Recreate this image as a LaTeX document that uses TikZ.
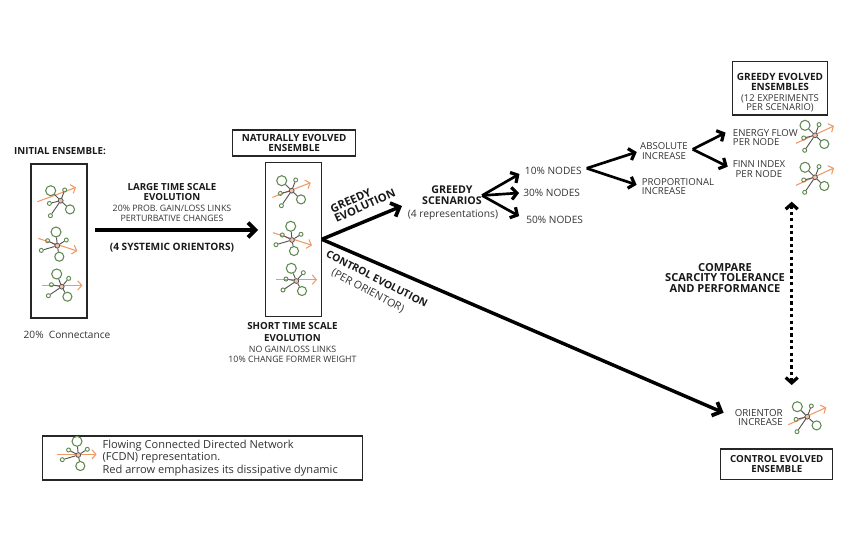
\documentclass[tikz,border=0pt]{standalone}
\usepackage{fontspec}
\setmainfont{Open Sans}
\usetikzlibrary{arrows.meta}
\definecolor{netgreen}{HTML}{5F8A4F}
\definecolor{netorange}{HTML}{EE9A68}
\definecolor{netgrey}{HTML}{555555}
\definecolor{inktext}{HTML}{333333}
\tikzset{
  lab/.style={font=\fontsize{#1}{7}\selectfont, text=inktext, inner sep=0pt, align=center},
  lab/.default=7.2,
  boldlab/.style={font=\fontsize{#1}{7.7}\selectfont\bfseries, text=black!90, inner sep=0pt, align=center},
  boldlab/.default=7.4,
  legendlab/.style={font=\fontsize{8.3}{9.5}\selectfont, text=inktext, inner sep=0pt, align=left},
  boxed/.style={draw=black!85, line width=0.8pt, inner sep=0pt},
  bigarrow/.style={line width=2.6pt, -{Straight Barb[length=5.5pt,width=11pt,line width=2.8pt]}},
  midarrow/.style={line width=2pt, -{Straight Barb[length=4pt,width=9pt,line width=2.4pt]}},
  bignode/.style={draw=netgreen, line width=0.8pt, circle, inner sep=0pt, minimum size=#1},
  bignode/.default=7.5pt,
  smallnode/.style={draw=netgreen, line width=0.7pt, circle, inner sep=0pt, minimum size=3pt},
  hubnode/.style={draw=netgrey, fill=netorange!60, line width=0.6pt, circle, inner sep=0pt, minimum size=3.6pt},
  flowarrow/.style={draw=netorange, line width=0.8pt, -{Straight Barb[length=3pt,width=7pt]}},
  netedge/.style={draw=netgrey, line width=0.7pt},
  pics/fcdnrise/.style 2 args={code={
    \draw[flowarrow] #1 -- #2;
    \node[hubnode] (hub) at (0,0) {};
    \node[bignode] (a) at (-10,-10) {};
    \node[smallnode] (b) at (4,-10.7) {};
    \node[smallnode] (c) at (-11.3,2.7) {};
    \node[bignode=6.8pt] (d) at (9.3,8.7) {};
    \node[smallnode] (e) at (-10.3,15) {};
    \foreach \leaf in {a,b,c,d,e} \draw[netedge] (hub) -- (\leaf);
  }},
  pics/fcdnfall/.style 2 args={code={
    \draw[flowarrow] #1 -- #2;
    \node[hubnode] (hub) at (0,0) {};
    \node[bignode] (a) at (-1.3,-13.7) {};
    \node[smallnode] (b) at (9,-5.7) {};
    \node[smallnode] (c) at (-9.7,-5) {};
    \node[bignode=6.8pt] (d) at (2,11) {};
    \node[smallnode] (e) at (-16,4.7) {};
    \foreach \leaf in {a,b,c,d,e} \draw[netedge] (hub) -- (\leaf);
  }},
  pics/fcdnflat/.style 2 args={code={
    \draw[flowarrow] #1 -- #2;
    \node[hubnode] (hub) at (0,0) {};
    \node[bignode] (a) at (-5,-12.7) {};
    \node[smallnode] (b) at (7,-8.3) {};
    \node[smallnode] (c) at (-10.3,-2) {};
    \node[bignode=6.8pt] (d) at (5.7,10) {};
    \node[smallnode] (e) at (-13.3,9) {};
    \foreach \leaf in {a,b,c,d,e} \draw[netedge] (hub) -- (\leaf);
  }},
}
\begin{document}
\begin{tikzpicture}[x=0.75pt,y=-0.75pt]
\useasboundingbox (0,0) rectangle (850,560);

%% ensemble boxes
\node[boxed, minimum width=42pt, minimum height=115.5pt] (initbox) at (59,241) {};
\node[boxed, minimum width=41.7pt, minimum height=115.5pt] (evolbox) at (293.5,239.3) {};

%% titled boxes
\node[boxed, boldlab=7.4, minimum width=92.2pt, minimum height=19.5pt] (natbox) at (294.2,143) {NATURALLY EVOLVED\\ENSEMBLE};
\node[boxed, minimum width=71pt, minimum height=39.8pt] (greedybox) at (780,88.5) {};
\node[boldlab=7.5] (greedytitle) at (780,82) {GREEDY EVOLVED\\ENSEMBLES};
\node[lab=7.1] (greedynote) at (780,103) {(12 EXPERIMENTS\\PER SCENARIO)};
\node[boxed, boldlab=7.3, minimum width=84.2pt, minimum height=23pt] (ctrlbox) at (776.8,464.3) {CONTROL EVOLVED\\ENSEMBLE};
\node[boxed, minimum width=239.7pt, minimum height=33pt] (legendbox) at (202.5,458) {};

%% labels
\node[boldlab=7.3] (initlab) at (60,151.5) {INITIAL ENSEMBLE:};
\node[lab=7.6] (connlab) at (67,334.5) {20\%\ \ Connectance};
\node[boldlab=7.3] (largelab) at (172,192) {LARGE TIME SCALE\\EVOLUTION};
\node[lab=6.6] (largenote) at (172,213.5) {20\% PROB. GAIN/LOSS LINKS\\PERTURBATIVE CHANGES};
\node[boldlab=7.6] (orientlab) at (172,248) {(4 SYSTEMIC ORIENTORS)};
\node[boldlab=7.3, font=\fontsize{7.3}{9}\selectfont\bfseries] (shortlab) at (292.5,332) {SHORT TIME SCALE\\EVOLUTION};
\node[lab=6.6] (shortnote) at (292.5,354.5) {NO GAIN/LOSS LINKS\\10\% CHANGE FORMER WEIGHT};
\node[boldlab=8.4, align=left, rotate=24] (greedylab) at (362.8,201) {GREEDY\\EVOLUTION};
\node[boldlab=7.7, rotate=-27] (ctrllab) at (377,279) {CONTROL EVOLUTION};
\node[lab=8, rotate=-28] (perlab) at (367.7,291) {(PER ORIENTOR)};
\node[boldlab=8, font=\fontsize{8}{8}\selectfont\bfseries] (scenlab) at (452,195.5) {GREEDY\\SCENARIOS};
\node[lab=7.7] (replab) at (453,215) {(4 representations)};
\node[lab=7.6] (pcta) at (553.3,171) {10\% NODES};
\node[lab=7.6] (pctb) at (551.7,192.7) {30\% NODES};
\node[lab=7.6] (pctc) at (554.7,220) {50\% NODES};
\node[lab] (abslab) at (664,151) {ABSOLUTE\\INCREASE};
\node[lab, align=left] (proplab) at (678,186.5) {PROPORTIONAL\\INCREASE};
\node[lab, align=left, anchor=west] (energylab) at (732.7,137.5) {ENERGY FLOW\\PER NODE};
\node[lab] (finnlab) at (759,169) {FINN INDEX\\PER NODE};
\node[boldlab=8.3] (cmplab) at (725,278) {COMPARE\\SCARCITY TOLERANCE\\AND PERFORMANCE};
\node[lab=7.3, align=right, anchor=east] (orilab) at (783,417.5) {ORIENTOR\\INCREASE};
\node[legendlab, anchor=west] (legendtext) at (102.3,458) {Flowing Connected Directed Network\\(FCDN) representation.\\Red arrow emphasizes its dissipative dynamic};

%% networks
\pic (inita) at (60.7,200.7) {fcdnrise={(-23.3,1)}{(15.3,-13.3)}};
\pic (initb) at (57.3,245.7) {fcdnfall={(-19,-7.3)}{(20,5.3)}};
\pic (initc) at (61.7,286.7) {fcdnflat={(-20,-1.3)}{(20.7,-1.3)}};
\pic (evola) at (291.7,190.7) {fcdnrise={(-19.3,6.7)}{(19,-8)}};
\pic (evolb) at (292,240) {fcdnfall={(-19,-7.3)}{(20,5.3)}};
\pic (evolc) at (296.3,281) {fcdnflat={(-20,-1.3)}{(20.7,-1.3)}};
\pic (enera) at (815,135.3) {fcdnrise={(-19,8)}{(19,-9.3)}};
\pic (finna) at (815,177.3) {fcdnrise={(-19,8)}{(19,-9.3)}};
\pic (oria) at (807.3,416.7) {fcdnrise={(-19,8)}{(19,-9.3)}};
\pic (lega) at (78.3,455) {fcdnfall={(-21.7,-0.7)}{(18.3,-0.7)}};

%% free ends
\coordinate (initout) at (95,230);
\coordinate (evolin) at (258,230);
\coordinate (greedytip) at (402,206);
\coordinate (pctfork) at (586.7,168.3);
\coordinate (absfork) at (692.7,149.3);
\coordinate (cmptop) at (791.7,201.7);
\coordinate (cmpbot) at (791.7,385);

%% arrows
\draw[bigarrow] (initout) -- (evolin);
\draw[bigarrow] (evolbox.east) -- (greedytip);
\draw[bigarrow, shorten >=9pt] (evolbox.east) -- (orilab.west);
\draw[midarrow, shorten >=4.5pt] (scenlab.east) -- (pcta.west);
\draw[midarrow, shorten >=3pt] (scenlab.east) -- (pctb.west);
\draw[midarrow, shorten >=6pt] (scenlab.east) -- (pctc.west);
\draw[midarrow, shorten >=2.5pt] (pctfork) -- (abslab.west);
\draw[midarrow, shorten >=4pt] (pctfork) -- (proplab.west);
\draw[midarrow, shorten >=6pt] (absfork) -- (energylab.north west);
\draw[midarrow, shorten >=4pt] (absfork) -- (finnlab.west);
\draw[line width=2.2pt, dash pattern=on 2.4pt off 2.4pt, {Straight Barb[length=4pt,width=9pt,line width=2.4pt]}-{Straight Barb[length=4pt,width=9pt,line width=2.4pt]}] (cmptop) -- (cmpbot);

\end{tikzpicture}
\end{document}
